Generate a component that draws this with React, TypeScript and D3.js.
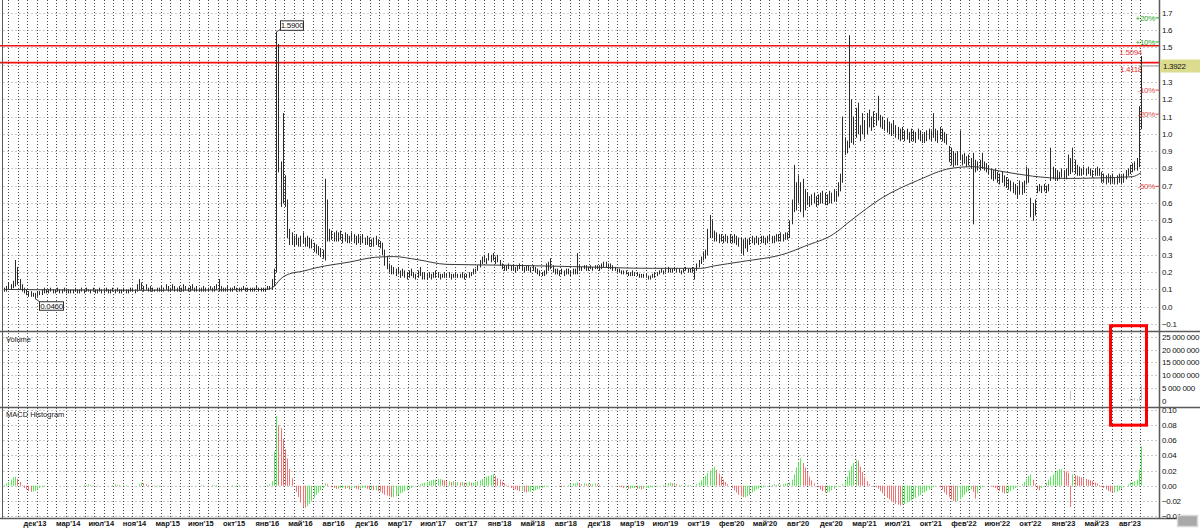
import React from "react";
import * as d3 from "d3";

// ---------- DATA (weekly bars, prices in hundredths) ----------
const highCents = [
  11,12,14,13,15,27,23,16,13,11, 10,9,9,8,8,9,9,10,11,10,
  10,11,10,10,11,10,10,11,10,10, 10,10,11,10,10,11,10,11,10,10,
  11,10,10,11,10,10,11,10,10,11, 10,11,10,10,11,10,10,11,11,10,
  13,16,14,12,13,11,12,11,10,11, 11,12,11,13,12,11,13,12,11,12,
  11,13,12,11,12,13,11,12,11,11, 12,11,11,12,11,12,13,16,12,11,
  11,12,11,11,12,11,11,11,12,11, 11,11,11,11,12,11,11,11,11,12,
  12,16,22,159,152,84,112,76,62,45, 43,41,42,40,41,43,40,41,40,39,
  37,36,35,34,33,74,62,45,44,43, 44,43,44,42,43,42,41,43,42,41,
  42,41,42,40,41,40,39,40,41,39, 38,37,33,29,25,24,23,22,23,21,
  22,21,20,21,22,20,19,21,23,20, 20,19,20,19,20,21,20,19,19,20,
  19,20,19,19,20,19,19,20,19,19, 20,20,22,22,24,27,29,30,28,31,
  30,31,29,30,27,25,24,24,25,24, 24,23,24,25,24,23,24,24,23,24,
  23,22,21,20,21,25,26,28,24,22, 22,21,22,21,22,22,21,22,22,31,
  24,23,24,24,23,24,23,24,24,24, 25,26,26,25,25,24,23,22,22,21,
  21,21,20,20,21,20,20,19,19,19, 19,18,18,19,20,20,21,22,21,22,
  23,22,22,23,22,22,21,22,23,22, 22,23,22,25,27,29,32,33,45,53,
  50,44,43,42,42,41,42,41,42,41, 42,41,40,40,39,40,39,40,41,40,
  41,40,41,41,40,41,42,41,41,42, 42,43,42,43,43,50,62,82,72,76,
  72,74,68,66,64,65,66,64,65,66, 67,66,65,67,66,68,67,72,77,110,
  98,96,157,120,110,115,118,105,112,108, 112,114,110,113,112,122,111,110,108,109,
  107,106,108,105,104,103,104,102,103,101, 103,102,101,103,102,100,101,102,103,102,
  112,103,102,104,103,101,100,93,92,90, 89,90,102,88,89,87,88,86,89,85,
  84,85,89,84,83,82,80,79,80,78, 77,78,76,75,74,73,72,71,70,73,
  72,73,81,80,63,60,62,70,71,70, 71,70,71,92,81,80,79,78,80,79,
  80,88,86,92,85,82,81,80,81,80, 81,80,79,80,81,80,78,77,76,77,
  76,77,75,76,77,76,77,79,80,82, 83,84,86,116,145,
];
const lowCents = [
  9,9,10,10,11,12,13,10,9,8, 7,6,6,6,4.6,6,7,7,8,8,
  8,9,8,8,9,8,8,9,8,8, 8,8,9,8,8,9,8,9,9,8,
  9,8,8,9,8,8,9,8,8,9, 8,9,8,8,9,8,8,9,9,8,
  9,10,10,9,10,9,9,9,9,9, 9,9,9,10,9,9,10,9,9,9,
  9,9,10,9,9,10,9,9,9,9, 9,9,9,10,9,9,10,9,9,9,
  9,9,9,9,10,9,9,9,10,9, 9,9,9,9,10,9,9,9,9,10,
  10,10,12,20,78,58,60,58,40,36, 36,35,36,35,35,37,35,35,34,34,
  32,31,30,29,28,27,38,38,39,38, 38,38,39,37,38,37,37,38,37,36,
  37,36,37,36,36,35,35,35,36,35, 34,30,24,22,20,19,19,18,19,17,
  18,17,16,17,18,17,16,17,18,16, 16,16,17,16,17,17,17,16,17,17,
  17,17,16,17,17,17,17,17,16,17, 17,18,19,20,21,23,25,26,25,27,
  26,27,25,26,24,22,21,21,22,21, 21,20,21,22,21,20,21,21,20,21,
  20,19,18,18,18,19,21,22,20,19, 19,18,19,18,19,19,18,19,19,19,
  21,21,22,21,21,22,21,22,22,21, 22,23,23,22,22,21,21,20,20,19,
  19,19,18,18,18,18,18,17,17,17, 17,16,16,17,17,18,19,20,19,20,
  20,20,20,21,20,20,19,20,21,20, 20,20,16,21,23,25,27,28,30,40,
  40,38,38,37,38,37,38,37,37,37, 37,36,35,31,30,34,32,36,37,36,
  37,36,37,37,36,37,38,37,37,38, 38,38,38,39,39,40,48,55,56,60,
  55,52,56,59,58,59,60,58,59,60, 60,59,59,60,60,61,61,64,67,72,
  88,89,92,95,94,98,100,96,100,98, 100,104,102,104,105,108,104,103,102,101,
  100,99,100,98,97,96,97,96,97,95, 96,96,95,97,96,95,95,96,97,96,
  98,96,95,97,96,95,94,84,82,81, 82,82,85,82,83,81,82,80,48,78,
  79,79,80,79,78,77,74,73,74,72, 71,72,70,69,68,67,66,65,63,65,
  65,66,71,72,52,50,53,66,67,66, 67,66,67,73,74,73,73,74,75,74,
  74,76,77,78,77,76,76,76,77,76, 77,76,75,76,76,76,72,72,71,72,
  71,72,71,71,72,71,72,74,76,77, 78,79,79,81,103,
];
// MACD histogram, thousandths
const macdMilli = [
  1,3,5,8,11,12,9,5,1,-3, -5,-7,-8,-8,-7,-5,-3,-2,-1,0,
  0,0,0,0,0,0,0,0,0,0, 0,0,0,0,0,0,1,1,2,1,
  1,0,-1,0,0,0,0,0,0,1, 2,1,1,0,1,1,0,0,0,0,
  0,2,4,3,2,1,0,-1,-1,-1, -1,0,0,0,0,0,0,0,0,0,
  0,0,0,0,0,0,0,0,0,1, 1,0,-1,0,1,1,1,0,0,0,
  0,0,0,1,0,1,1,0,0,0, 0,0,0,0,0,0,0,0,0,1,
  2,6,45,92,80,76,62,48,36,22, 10,0,-8,-15,-22,-28,-29,-27,-24,-20,
  -16,-12,-9,-6,-3,3,2,0,-2,-3, -4,-4,-3,-3,-4,-3,-5,-4,-3,-4,
  -5,-4,-3,-3,-4,-5,-5,-6,-6,-7, -8,-10,-12,-13,-14,-15,-15,-14,-12,-10,
  -9,-7,-6,-4,-3,-1,0,1,2,3, 4,5,6,7,8,8,9,9,8,7,
  6,6,5,6,5,5,4,5,4,4, 5,4,4,5,6,7,9,10,12,13,
  14,15,13,10,8,5,3,1,-1,-3, -4,-5,-6,-7,-7,-8,-9,-8,-8,-7,
  -6,-5,-4,-3,-2,-1,0,0,0,0, 0,-1,-2,-1,0,1,2,3,3,4,
  3,2,3,2,3,2,2,3,2,1, 0,0,0,0,0,0,0,0,-1,-2,
  -3,-3,-4,-4,-3,-3,-4,-4,-5,-4, -3,-3,-2,-2,-1,-1,0,0,1,2,
  3,4,3,3,2,1,1,0,1,1, 1,0,0,2,4,7,10,13,17,20,
  23,25,21,16,12,8,5,2,0,-3, -6,-9,-12,-14,-15,-15,-14,-12,-9,-7,
  -5,-4,-3,-2,-1,0,1,1,2,1, 2,1,2,3,3,4,8,15,24,31,
  36,30,24,18,12,7,3,0,-2,-5, -7,-9,-9,-8,-6,-4,-2,-1,0,2,
  6,12,20,26,30,34,33,25,18,12, 6,2,0,-1,-2,-4,-7,-10,-13,-16,
  -18,-20,-22,-24,-25,-26,-25,-24,-22,-21, -19,-17,-16,-14,-12,-10,-9,-7,-5,-4,
  -2,-1,0,-2,-5,-9,-12,-15,-18,-20, -21,-20,-18,-15,-12,-9,-7,-5,-8,-17,
  -10,-4,-2,0,0,0,-1,-2,-3,-5, -7,-9,-10,-10,-9,-7,-5,-3,-2,0,
  2,5,9,13,15,8,2,-4,-6,-3, 0,4,8,12,15,18,20,22,22,20,
  19,17,-28,15,14,13,12,11,10,9, 8,7,6,4,3,1,-1,-3,-5,-7,
  -8,-9,-9,-8,-6,-4,-2,0,2,4, 5,6,8,21,52,
];
// moving average: [bar index, value]
const maKnots: [number, number][] = [
  [0, 0.1], [60, 0.095], [118, 0.1], [121, 0.108], [123, 0.13], [125, 0.16], [129, 0.19],
  [135, 0.205], [141, 0.225], [156, 0.258], [168, 0.286], [176, 0.29], [187, 0.272],
  [200, 0.245], [227, 0.24], [257, 0.232], [293, 0.222], [315, 0.222], [321, 0.236],
  [333, 0.26], [354, 0.31], [362, 0.35], [375, 0.42], [383, 0.5], [397, 0.63],
  [413, 0.73], [428, 0.8], [438, 0.81], [450, 0.785], [465, 0.755], [480, 0.742],
  [495, 0.745], [510, 0.752], [514, 0.775],
];
// volume: [bar index, shares]
const volumeSpikes: [number, number][] = [
  [482, 4000000], [508, 500000], [509, 800000], [510, 600000], [511, 1000000],
  [512, 700000], [513, 1500000], [514, 6000000],
];
const monthLabels = [
  "дек'13","мар'14","июл'14","ноя'14","мар'15","июн'15","окт'15","янв'16","май'16",
  "авг'16","дек'16","мар'17","июл'17","окт'17","янв'18","май'18","авг'18","дек'18",
  "мар'19","июл'19","окт'19","фев'20","май'20","авг'20","дек'20","мар'21","июл'21",
  "окт'21","фев'22","июн'22","окт'22","янв'23","май'23","авг'23",
];
const priceTicks = [-0.1,0,0.1,0.2,0.3,0.4,0.5,0.6,0.7,0.8,0.9,1.0,1.1,1.2,1.3,1.4,1.5,1.6,1.7];
const volumeTicks = [0, 5000000, 10000000, 15000000, 20000000, 25000000];
const macdTicks = [-0.04, -0.02, 0, 0.02, 0.04, 0.06, 0.08, 0.1];
const levels = [1.5094, 1.4118];
const lastPrice = 1.3922;
const pctLevels = [20, 10, -10, -20, -50];

// ---------- LAYOUT ----------
const W = 1200, H = 528;
const N = highCents.length;
const X0 = 4.03, STEP = 2.212;
const LABEL_FIRST = 14, LABEL_EVERY = 15;
const GRID_PHASE = 2, GRID_BARS = 4.3;
const AXIS_X = 1159.5;
const FONT = "'Liberation Sans', Arial, sans-serif";

export default function App() {
  const xs = d3.scaleLinear().domain([0, N - 1]).range([X0, X0 + (N - 1) * STEP]);
  const yP = d3.scaleLinear().domain([0, 1.7]).range([306.7, 12.8]);
  const yV = d3.scaleLinear().domain([0, 25000000]).range([400.7, 337]);
  const yM = d3.scaleLinear().domain([-0.04, 0.1]).range([516, 410]);
  const px = (i: number) => Math.round(xs(i)) + 0.5;

  const highs = highCents.map((v) => v / 100);
  const lows = lowCents.map((v) => v / 100);
  const macd = macdMilli.map((v) => v / 1000);

  const gridX: number[] = [];
  for (let g = GRID_PHASE; g <= N - 1 + 0.5; g += GRID_BARS) gridX.push(Math.round(xs(g)) + 0.5);

  const maLine = d3.line<[number, number]>().x((d) => xs(d[0])).y((d) => yP(d[1])).curve(d3.curveMonotoneX);

  const maxIdx = d3.maxIndex(highs);
  const minIdx = d3.minIndex(lows);
  const fmt4 = d3.format(".4f");
  const fmt1 = d3.format(".1f");
  const fmt2 = d3.format(".2f");
  const fmtVol = (v: number) => d3.format(",")(v).replace(/,/g, " ");

  const numStyle = { fontFamily: FONT, fontSize: 8, letterSpacing: -0.3 } as const;
  const lastY = yP(lastPrice);

  return (
    <svg width={W} height={H} style={{ position: "absolute", left: 0, top: 0, display: "block" }}>
      <rect x={0} y={0} width={W} height={H} fill="#ffffff" />

      {/* horizontal grids */}
      {priceTicks.map((t) => (
        <line key={"hp" + t} x1={3} x2={AXIS_X} y1={Math.round(yP(t)) + 0.5} y2={Math.round(yP(t)) + 0.5}
          stroke="#c8c8c8" strokeDasharray="2,2" />
      ))}
      {volumeTicks.slice(1).map((t) => (
        <line key={"hv" + t} x1={3} x2={AXIS_X} y1={Math.round(yV(t)) + 0.5} y2={Math.round(yV(t)) + 0.5}
          stroke="#c8c8c8" strokeDasharray="2,2" />
      ))}
      {macdTicks.map((t) => (
        <line key={"hm" + t} x1={3} x2={AXIS_X} y1={Math.round(yM(t)) + 0.5} y2={Math.round(yM(t)) + 0.5}
          stroke="#c8c8c8" strokeDasharray="2,2" />
      ))}
      {/* vertical grids */}
      {gridX.map((x, k) => (
        <line key={"gv" + k} x1={x} x2={x} y1={0} y2={518} stroke="#4a4a4a" strokeDasharray="1,2" />
      ))}

      {/* red levels */}
      {levels.map((l) => (
        <g key={"lv" + l}>
          <line x1={0} x2={AXIS_X} y1={yP(l)} y2={yP(l)} stroke="#f01010" strokeWidth={1.6} />
          <text x={1142} y={yP(l) + 9} textAnchor="end" fill="#e03c3c" style={numStyle}>{fmt4(l)}</text>
        </g>
      ))}

      {/* price bars */}
      {highs.map((h, i) => (
        <line key={"b" + i} x1={px(i)} x2={px(i)} y1={yP(h)} y2={yP(lows[i]) + 0.5}
          stroke="#2a2a2a" strokeWidth={1} />
      ))}
      <path d={maLine(maKnots) || ""} fill="none" stroke="#3a3a3a" strokeWidth={1} />

      {/* last price line */}
      <line x1={px(N - 1) - 3} x2={AXIS_X} y1={lastY} y2={lastY} stroke="#9a9a9a" />

      {/* high/low annotations */}
      <g>
        <line x1={px(maxIdx)} y1={yP(highs[maxIdx])} x2={px(maxIdx) + 4} y2={yP(highs[maxIdx]) - 2.5} stroke="#404040" />
        <rect x={px(maxIdx) + 4} y={yP(highs[maxIdx]) - 11} width={23} height={9.5} fill="#fff" stroke="#303030" />
        <text x={px(maxIdx) + 15.5} y={yP(highs[maxIdx]) - 3.4} textAnchor="middle" fill="#111" style={numStyle}>
          {fmt4(highs[maxIdx])}
        </text>
        <line x1={px(minIdx)} y1={yP(lows[minIdx])} x2={px(minIdx) + 4} y2={yP(lows[minIdx]) + 3} stroke="#404040" />
        <rect x={px(minIdx) + 4} y={yP(lows[minIdx]) + 3} width={24} height={8.5} fill="#fff" stroke="#303030" />
        <text x={px(minIdx) + 16} y={yP(lows[minIdx]) + 10.2} textAnchor="middle" fill="#111" style={numStyle}>
          {fmt4(lows[minIdx])}
        </text>
      </g>

      {/* volume bars */}
      {volumeSpikes.map(([i, v]) => (
        <line key={"v" + i} x1={px(i)} x2={px(i)} y1={yV(v)} y2={yV(0)} stroke="#c4c4c4" />
      ))}

      {/* MACD histogram */}
      {macd.map((v, i) => {
        if (v === 0) return null;
        const up = i === 0 ? v >= 0 : v >= macd[i - 1];
        return (
          <line key={"m" + i} x1={px(i)} x2={px(i)} y1={yM(0)} y2={yM(v)}
            stroke={up ? "#5fe85f" : "#f07474"} strokeWidth={1} />
        );
      })}

      {/* panel separators & frame */}
      <line x1={0} x2={W} y1={331.5} y2={331.5} stroke="#5a5a5a" strokeWidth={1.5} />
      <line x1={0} x2={W} y1={407.5} y2={407.5} stroke="#5a5a5a" strokeWidth={1.5} />
      <line x1={0} x2={1177} y1={518.5} y2={518.5} stroke="#5a5a5a" strokeWidth={1.5} />
      <line x1={2.5} x2={2.5} y1={0} y2={519} stroke="#5a5a5a" strokeWidth={1} />
      <line x1={AXIS_X} x2={AXIS_X} y1={0} y2={519} stroke="#5a5a5a" strokeWidth={1.5} />

      {/* percent labels */}
      {pctLevels.map((p) => {
        const y = yP(lastPrice * (1 + p / 100));
        return (
          <g key={"pc" + p}>
            <text x={1155} y={y + 2.8} textAnchor="end" fill={p > 0 ? "#28a428" : "#e04848"} style={numStyle}>
              {(p > 0 ? "+" : "") + p + "%"}
            </text>
            <line x1={1155.5} x2={AXIS_X} y1={y} y2={y} stroke={p > 0 ? "#28a428" : "#e04848"} />
          </g>
        );
      })}

      {/* price axis (label under the last-price box is hidden, as in the reference) */}
      {priceTicks.filter((t) => Math.abs(yP(t) - lastY) > 9).map((t) => (
        <text key={"pt" + t} x={1162} y={yP(t) + 3} fill="#111" style={numStyle}>{fmt1(t)}</text>
      ))}
      <rect x={1160} y={lastY - 6.5} width={40} height={13} fill="#dcdc8e" />
      <text x={1163} y={lastY + 3} fill="#111" style={numStyle}>{fmt4(lastPrice)}</text>

      {/* volume axis */}
      {volumeTicks.map((t) => (
        <text key={"vt" + t} x={1162} y={yV(t) + 3} fill="#111" style={numStyle}>{fmtVol(t)}</text>
      ))}
      {/* macd axis */}
      {macdTicks.map((t) => (
        <text key={"mt" + t} x={1162} y={yM(t) + 3} fill="#111" style={numStyle}>{fmt2(t)}</text>
      ))}

      {/* titles */}
      <text x={6} y={342} fill="#222" style={{ fontFamily: FONT, fontSize: 7.5 }}>Volume</text>
      <text x={6} y={417} fill="#222" style={{ fontFamily: FONT, fontSize: 7.5 }}>MACD Histogram</text>

      {/* time axis labels */}
      {monthLabels.map((m, k) => (
        <text key={"ml" + k} x={xs(LABEL_FIRST + k * LABEL_EVERY)} y={526} textAnchor="middle" fill="#111"
          style={{ fontFamily: FONT, fontSize: 7.5, fontWeight: "bold" }}>{m}</text>
      ))}

      {/* highlight box */}
      <rect x={xs(N - 15) + 0.5} y={yP(-0.11)} width={xs(N - 1) - xs(N - 15) + 5} height={yM(0.08) - yP(-0.11)}
        fill="none" stroke="#ff0000" strokeWidth={3} />

      {/* scroll thumb */}
      <rect x={1177.5} y={515.5} width={20} height={11} fill="#a9a9a9" stroke="#d8d8d8" strokeWidth={1.5} />
    </svg>
  );
}
